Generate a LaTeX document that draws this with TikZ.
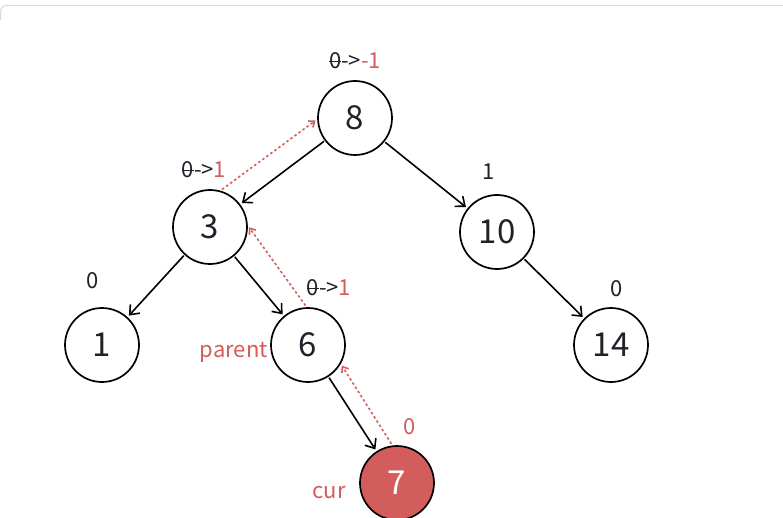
\documentclass[tikz,border=0pt]{standalone}
\usepackage{fontspec}
\setmainfont{Noto Sans CJK SC}
\usetikzlibrary{arrows.meta}

\definecolor{curred}{HTML}{D35C5C}
\definecolor{ink}{HTML}{1F2329}
\newcommand{\struck}[1]{\ooalign{#1\cr\hidewidth\rule[0.3em]{0.55em}{0.06em}\hidewidth\cr}}

\tikzset{
	treenode/.style={circle, draw=black, line width=1.7pt, minimum size=74pt, inner sep=0pt, text=ink, font=\fontsize{33}{33}\selectfont},
	curnode/.style={treenode, fill=curred, text=white},
	lbl/.style={font=\fontsize{22}{22}\selectfont, inner sep=0pt, text=ink},
	edge/.style={-{Straight Barb[length=8pt,width=13pt]}, line width=1.6pt, shorten <=1pt, shorten >=2pt},
	back/.style={-{Straight Barb[length=5pt,width=8pt]}, curred, line width=1.6pt, dash pattern=on 2.5pt off 2.5pt, shorten <=2pt, shorten >=2pt}
}

\begin{document}
\begin{tikzpicture}[x=1pt, y=-1pt]
	
	\useasboundingbox (0, 0) rectangle (783, 518);
	\draw [black!15, line width=1pt, rounded corners=6pt] (0.5, 20) -- (0.5, 5.5) -- (783, 5.5);
	
	% tree
	\node [treenode] (n8) at (355, 118) {8};
	\node [treenode] (n3) at (210, 227) {3};
	\node [treenode] (n10) at (497, 232) {10};
	\node [treenode] (n1) at (102, 345) {1};
	\node [treenode] (n6) at (308, 345) {6};
	\node [treenode] (n14) at (611, 345) {14};
	\node [curnode] (n7) at (397, 483) {7};
	
	\draw [edge] (n8) -- (n3);
	\draw [edge] (n8) -- (n10);
	\draw [edge] (n3) -- (n1);
	\draw [edge] (n3) -- (n6);
	\draw [edge] (n10) -- (n14);
	\draw [edge] (n6) -- (n7);
	
	% balance factors
	\node [lbl] (b8) at (355, 61) {\struck{0}->\textcolor{curred}{-1}};
	\node [lbl] (b3) at (204, 170) {\struck{0}->\textcolor{curred}{1}};
	\node [lbl] (b10) at (489, 172) {1};
	\node [lbl] (b1) at (93, 281) {0};
	\node [lbl] (b6) at (329, 288) {\struck{0}->\textcolor{curred}{1}};
	\node [lbl] (b14) at (617, 289) {0};
	\node [lbl, text=curred] (b7) at (410, 427) {0};
	
	\node [lbl, text=curred, left] (parent) at (268, 352) {parent};
	\node [lbl, text=curred, left] (cur) at (346, 493) {cur};
	
	% walking back up
	\draw [back] (n7.97) -- (n6.-30);
	\draw [back] (n6.92) -- (n3.2);
	\draw [back] (n3.74) -- (n8.182);
	
\end{tikzpicture}
\end{document}
